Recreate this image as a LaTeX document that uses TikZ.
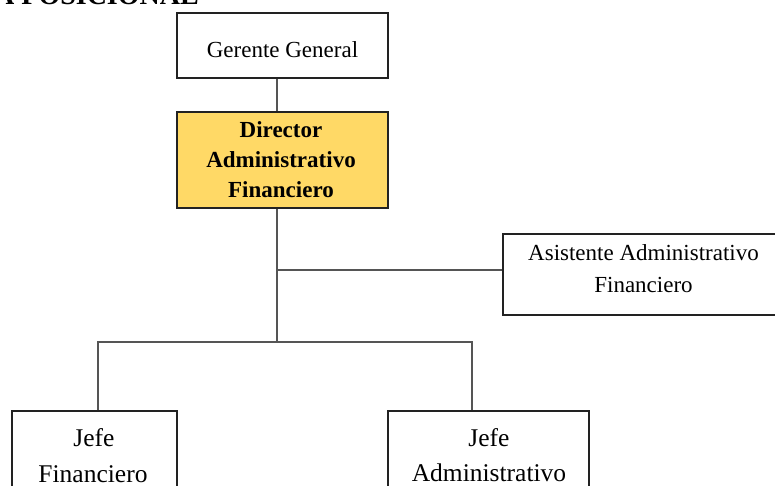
\documentclass[tikz,border=0pt]{standalone}
\usepackage{fontspec}
\setmainfont{Liberation Serif}
\definecolor{gold}{RGB}{255,217,102}
\definecolor{edge}{RGB}{34,34,34}
\definecolor{wire}{RGB}{85,85,85}
\begin{document}
\begin{tikzpicture}[x=1pt,y=-1pt,
  box/.style={draw=edge,line width=1.4pt,rectangle,inner sep=0pt},
  wirestyle/.style={draw=wire,line width=1.2pt},
  lbl/.style={anchor=base,inner sep=0pt,font=\fontsize{23}{30}\selectfont},
  lblb/.style={lbl,font=\fontsize{23}{30}\selectfont\bfseries},
  lblbig/.style={anchor=base,inner sep=0pt,font=\fontsize{25.5}{36}\selectfont},
  title/.style={anchor=base east,inner sep=0pt,font=\fontsize{28}{32}\selectfont\bfseries}]
\useasboundingbox (0,0) rectangle (775,486);

% heading, cut by the top edge of the page
\node[title] (head) at (199,4.5) {A POSICIONAL};

% boxes
\node[box,minimum width=211pt,minimum height=65pt] (gg) at (282.5,45.5) {};
\node[box,fill=gold,minimum width=211pt,minimum height=96pt] (dir) at (282.5,160) {};
\node[box,minimum width=300pt,minimum height=81pt] (asis) at (653,274.5) {};
\node[box,minimum width=165pt,minimum height=110pt] (jf) at (94.5,466) {};
\node[box,minimum width=201pt,minimum height=110pt] (ja) at (488.5,466) {};

% box texts
\node[lbl] (tgg) at (282.5,57.7) {Gerente General};
\node[lblb] (tdir1) at (281,137.3) {Director};
\node[lblb] (tdir2) at (281,167.5) {Administrativo};
\node[lblb] (tdir3) at (281,197) {Financiero};
\node[lbl] (tas1) at (643.5,260.7) {Asistente Administrativo};
\node[lbl] (tas2) at (643.5,292.7) {Financiero};
\node[lblbig] (tjf1) at (94,446.7) {Jefe};
\node[lblbig] (tjf2) at (93,482) {Financiero};
\node[lblbig] (tja1) at (489,446.7) {Jefe};
\node[lblbig] (tja2) at (489,481) {Administrativo};

% connector routing points
\coordinate (spine) at (277,0);
\coordinate (ab) at (277,270);
\coordinate (jn) at (277,342);
\coordinate (bl) at (98,342);
\coordinate (br) at (472,342);

% connectors
\draw[wirestyle] (gg.south -| spine) -- (dir.north -| spine);
\draw[wirestyle] (dir.south -| spine) -- (jn);
\draw[wirestyle] (ab) -- (ab -| asis.west);
\draw[wirestyle] (jf.north -| bl) -- (bl) -- (br) -- (ja.north -| br);
\end{tikzpicture}
\end{document}
